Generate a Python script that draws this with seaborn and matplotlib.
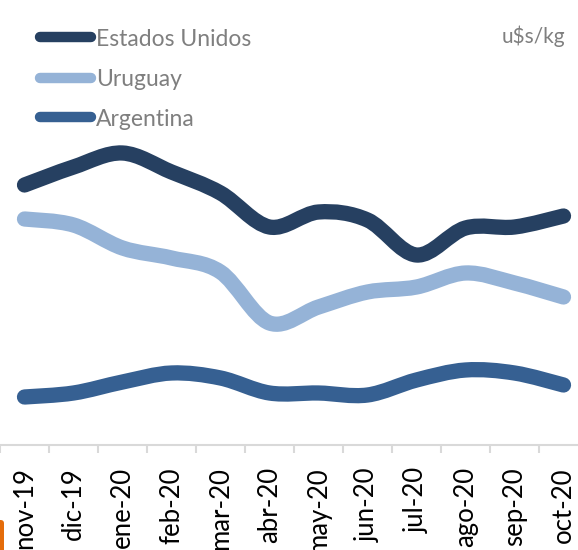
import numpy as np
import pandas as pd
import seaborn as sns
import matplotlib.pyplot as plt
from matplotlib.path import Path
from matplotlib.patches import PathPatch, FancyBboxPatch
from matplotlib.lines import Line2D

# ---------------- data (u$s/kg) ----------------
meses = ["nov-19", "dic-19", "ene-20", "feb-20", "mar-20", "abr-20",
         "may-20", "jun-20", "jul-20", "ago-20", "sep-20", "oct-20"]
estados_unidos = [5.30, 5.66, 5.94, 5.56, 5.14, 4.46, 4.76, 4.60, 3.90, 4.44, 4.46, 4.68]
uruguay = [4.62, 4.50, 4.04, 3.84, 3.56, 2.54, 2.86, 3.16, 3.26, 3.54, 3.34, 3.06]
argentina = [1.06, 1.14, 1.36, 1.54, 1.44, 1.14, 1.14, 1.10, 1.40, 1.60, 1.54, 1.30]

paises = ["Estados Unidos", "Uruguay", "Argentina"]
colores = ["#264061", "#95B3D7", "#366092"]

df = pd.DataFrame({"mes": meses * 3,
                   "valor": estados_unidos + uruguay + argentina,
                   "pais": np.repeat(paises, len(meses))})
df["pos"] = np.tile(np.arange(len(meses)), 3)

sns.set_theme(style="white")
plt.rcParams["font.family"] = ["Lato", "DejaVu Sans"]

fig = plt.figure(figsize=(5.78, 5.5), dpi=100)
ax = fig.add_axes([0.0, 105 / 550, 588 / 578, 445 / 550])

sns.lineplot(data=df, x="pos", y="valor", hue="pais", palette=colores,
             sort=False, linewidth=11, legend=False, ax=ax)


# smoothed line like excel: bezier through the points
def smooth_path(xs, ys):
    pts = np.column_stack([xs, ys])
    n = len(pts)
    verts = [pts[0]]
    codes = [Path.MOVETO]
    for i in range(n - 1):
        p0 = pts[max(i - 1, 0)]
        p1 = pts[i]
        p2 = pts[i + 1]
        p3 = pts[min(i + 2, n - 1)]
        verts += [p1 + (p2 - p0) / 6, p2 - (p3 - p1) / 6, p2]
        codes += [Path.CURVE4] * 3
    return Path(verts, codes)


for line, col in zip(list(ax.lines), colores):
    xs, ys = line.get_xdata(), line.get_ydata()
    line.set_visible(False)
    ax.add_patch(PathPatch(smooth_path(xs, ys), fill=False, edgecolor=col,
                           linewidth=11, capstyle="round", joinstyle="round"))

ax.set_xlim(-0.5, 11.5)
ax.set_ylim(0.1, 9.0)
ax.set_xticks(range(len(meses)))
ax.set_xticklabels(meses, rotation=90, fontsize=18.5, color="black")
ax.set_xticks(np.arange(-0.5, 12, 1), minor=True)
ax.tick_params(axis="x", which="major", length=0, pad=16)
ax.tick_params(axis="x", which="minor", length=6, width=1.5,
               color="#D9D9D9", direction="out", bottom=True)
ax.set_yticks([])
ax.set_xlabel("")
ax.set_ylabel("")
for s in ["top", "right", "left"]:
    ax.spines[s].set_visible(False)
ax.spines["bottom"].set_color("#D9D9D9")
ax.spines["bottom"].set_linewidth(1.5)

# legend drawn by hand so that the swatches sit where they do in the original
leg_y = [37, 78, 117]
for nombre, col, yy in zip(paises, colores, leg_y):
    yf = 1 - yy / 550
    fig.add_artist(Line2D([40 / 578, 91 / 578], [yf, yf], transform=fig.transFigure,
                          color=col, linewidth=7.5, solid_capstyle="round"))
    fig.text(96 / 578, yf, nombre, ha="left", va="center_baseline",
             fontsize=16.5, color="#7F7F7F")

fig.text(565 / 578, 1 - 36 / 550, "u$s/kg", ha="right", va="center",
         fontsize=15, color="#7F7F7F")

# little orange tab in the bottom-left corner
fig.patches.append(FancyBboxPatch((-6 / 578, -10 / 550), 10 / 578, 40 / 550,
                                  boxstyle="round,pad=0,rounding_size=0.006",
                                  transform=fig.transFigure, facecolor="#E46C0A",
                                  edgecolor="none", figure=fig))

fig.savefig("out.png", dpi=100)
